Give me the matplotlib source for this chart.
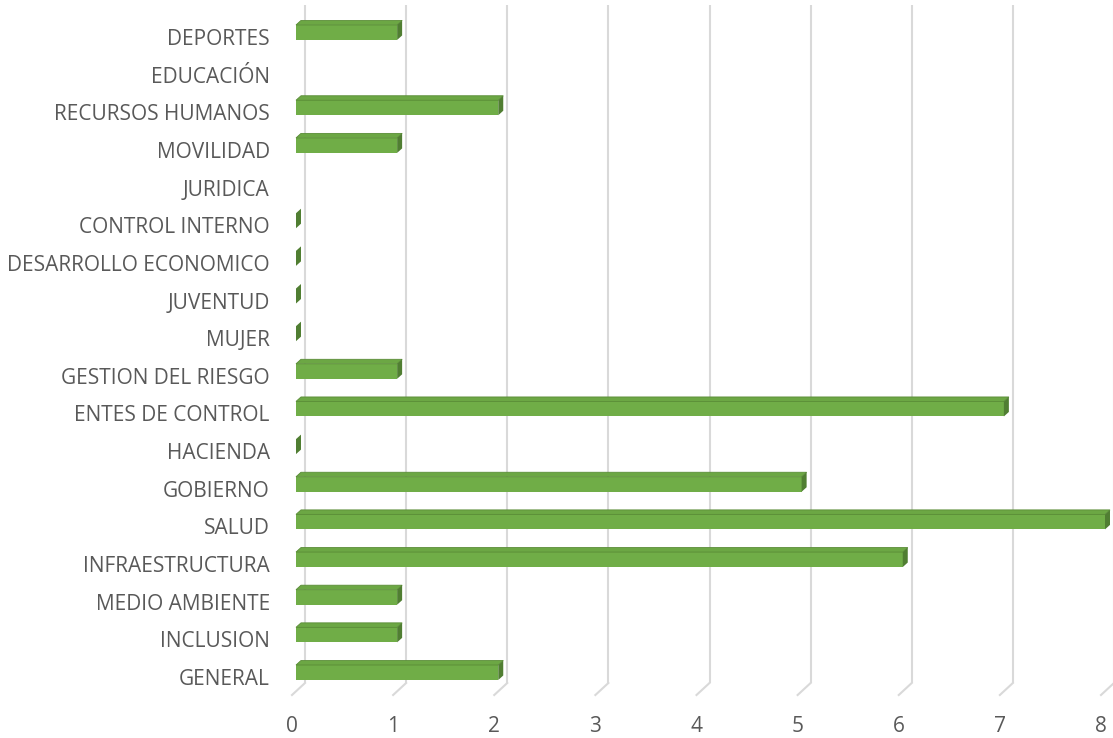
import numpy as np
import matplotlib
matplotlib.use('Agg')
import matplotlib.pyplot as plt
from matplotlib.patches import Polygon

# bottom to top, as drawn; nan = no value entered
areas = ['GENERAL', 'INCLUSION', 'MEDIO AMBIENTE', 'INFRAESTRUCTURA', 'SALUD',
         'GOBIERNO', 'HACIENDA', 'ENTES DE CONTROL', 'GESTION DEL RIESGO',
         'MUJER', 'JUVENTUD', 'DESARROLLO ECONOMICO', 'CONTROL INTERNO',
         'JURIDICA', 'MOVILIDAD', 'RECURSOS HUMANOS', 'EDUCACIÓN', 'DEPORTES']
counts = [2, 1, 1, 6, 8, 5, 0, 7, 1, 0, 0, 0, 0, np.nan, 1, 2, np.nan, 1]
x_ticks = list(range(0, 9))

plt.rcParams['font.family'] = ['Open Sans', 'DejaVu Sans']

W, H, DPI = 1113, 738, 100
fig = plt.figure(figsize=(W / DPI, H / DPI), dpi=DPI)
# axes box is the front plane of the 3D floor
left_px, right_px, bot_px, top_px = 292, 1101, 695, 17
ax = fig.add_axes([left_px / W, (H - bot_px) / H,
                   (right_px - left_px) / W, (bot_px - top_px) / H])
xmin, xmax = 0, 8
ymin, ymax = -0.478, 17.53
ax.set_xlim(xmin, xmax)
ax.set_ylim(ymin, ymax)

# pixel -> data conversion for the oblique depth offsets
sx = (right_px - left_px) / (xmax - xmin)
sy = (bot_px - top_px) / (ymax - ymin)


def off(px_x, px_y):
    return px_x / sx, px_y / sy


grid_c = '#D9D9D9'
gdx, gdy = off(13, 12)
for v in x_ticks:
    ax.plot([v + gdx, v + gdx], [ymin + gdy, ymax + gdy], color=grid_c,
            lw=1.5, clip_on=False, zorder=1, solid_capstyle='butt')
    ax.plot([v, v + gdx], [ymin, ymin + gdy], color=grid_c, lw=1.5,
            clip_on=False, zorder=1)

# 3D bars: front face, top face, right side face
fdx, fdy = off(4, 4.5)     # front face sits a bit into the depth
bdx, bdy = off(5, 4.5)     # bar depth
bh = 15 / sy
front_c, top_c, side_c, edge_c = '#70AD47', '#6CA744', '#507E32', '#5A8C37'
for i, val in enumerate(counts):
    if np.isnan(val):
        continue
    x0, x1 = fdx, val + fdx
    yb, yt = i + fdy - bh / 2, i + fdy + bh / 2
    if val > 0:
        ax.add_patch(Polygon([(x0, yb), (x1, yb), (x1, yt), (x0, yt)],
                             closed=True, fc=front_c, ec='none', zorder=3,
                             clip_on=False))
        ax.add_patch(Polygon([(x0, yt), (x1, yt), (x1 + bdx, yt + bdy),
                              (x0 + bdx, yt + bdy)], closed=True,
                             fc=top_c, ec=edge_c, lw=0.6, zorder=3,
                             clip_on=False))
    ax.add_patch(Polygon([(x1, yb), (x1 + bdx, yb + bdy),
                          (x1 + bdx, yt + bdy), (x1, yt)], closed=True,
                         fc=side_c, ec='none', zorder=3, clip_on=False))

txt_c = '#595959'
ax.set_xticks(x_ticks)
ax.set_xticklabels([str(t) for t in x_ticks], fontsize=15, color=txt_c)
ax.set_yticks(range(len(areas)))
ax.set_yticklabels(areas, fontsize=15, color=txt_c)
ax.tick_params(axis='x', length=0, pad=15)
ax.tick_params(axis='y', length=0, pad=16)
for s in ax.spines.values():
    s.set_visible(False)

fig.savefig('out.png', dpi=DPI)
